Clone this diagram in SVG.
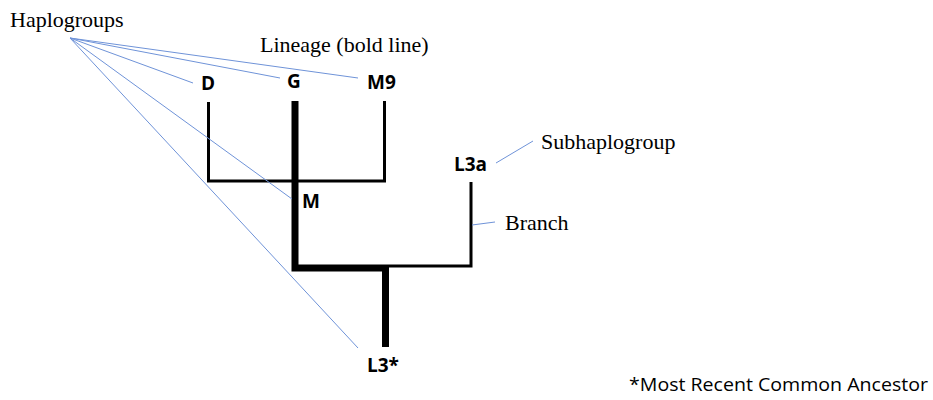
<svg xmlns="http://www.w3.org/2000/svg" width="933" height="400" viewBox="0 0 933 400">
<style>
.lbl{font-family:"Liberation Serif","Times New Roman",serif;font-size:22px;fill:#000}
.node{font-family:"Open Sans","Liberation Sans",sans-serif;font-weight:bold;font-size:19px;fill:#000}
.note{font-family:"Open Sans","Liberation Sans",sans-serif;font-size:18px;fill:#000}
.thin{stroke:#000;stroke-width:3;fill:none}
.bold{stroke:#000;stroke-width:7;fill:none}
.ptr{stroke:#6f93d8;stroke-width:1;fill:none}
</style>
<rect width="933" height="400" fill="#fff"/>
<g id="connectors">
<path class="thin" d="M208.5 102 V181 H384.5 V101"/>
<path class="thin" d="M386 266 H471 V182"/>
<path class="bold" d="M295 101 V268 H386"/>
<path class="bold" d="M385.5 266 V347" stroke-width="6"/>
<line class="ptr" x1="70" y1="38" x2="193" y2="83"/>
<line class="ptr" x1="70" y1="38" x2="280" y2="78"/>
<line class="ptr" x1="70" y1="38" x2="358" y2="78"/>
<line class="ptr" x1="70" y1="38" x2="292" y2="199"/>
<line class="ptr" x1="70" y1="38" x2="358" y2="348"/>
<line class="ptr" x1="496" y1="163" x2="533" y2="141"/>
<line class="ptr" x1="472" y1="225" x2="495" y2="222"/>
</g>
<g id="haplogroups"><text class="lbl" x="10" y="27">Haplogroups</text></g>
<g id="lineage"><text class="lbl" x="260" y="52">Lineage (bold line)</text></g>
<g id="subhaplogroup"><text class="lbl" x="541" y="149">Subhaplogroup</text></g>
<g id="branch"><text class="lbl" x="505" y="230">Branch</text></g>
<g id="node-D"><text class="node" x="201" y="90">D</text></g>
<g id="node-G"><text class="node" x="287" y="88">G</text></g>
<g id="node-M9"><text class="node" x="367" y="89">M9</text></g>
<g id="node-M"><text class="node" x="302" y="208">M</text></g>
<g id="node-L3a"><text class="node" x="454" y="171">L3a</text></g>
<g id="node-L3star"><text class="node" x="367" y="372">L3*</text></g>
<g id="note"><text class="note" x="629" y="391" textLength="299" lengthAdjust="spacingAndGlyphs">*Most Recent Common Ancestor</text></g>
</svg>
